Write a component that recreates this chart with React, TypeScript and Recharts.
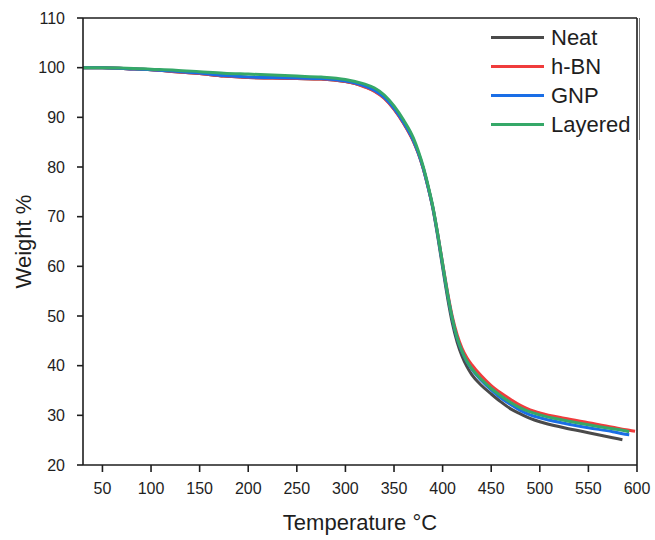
import React from 'react';
import { LineChart, Line, XAxis, YAxis, Legend, Label, ReferenceLine } from 'recharts';

const temperatures = [30, 50, 75, 100, 125, 150, 175, 200, 225, 250, 275, 300, 310, 320, 330, 340, 350, 360, 370, 375, 380, 385, 390, 395, 400, 405, 410, 415, 420, 425, 430, 440, 450, 460, 470, 480, 490, 500, 525, 550, 575, 585, 592, 598];

const neat = [100.0, 100.0, 99.8, 99.6, 99.2, 98.8, 98.3, 98.0, 97.9, 97.8, 97.7, 97.2, 96.8, 96.2, 95.3, 93.9, 91.7, 88.8, 85.2, 82.8, 79.8, 76.0, 71.6, 66.0, 59.8, 53.8, 48.6, 44.7, 41.9, 39.8, 38.2, 36.0, 34.3, 32.7, 31.3, 30.3, 29.4, 28.7, 27.5, 26.5, 25.5, 25.1, null, null];
const hBN = [100.0, 100.0, 99.8, 99.6, 99.2, 98.8, 98.3, 98.0, 97.9, 97.8, 97.7, 97.2, 96.8, 96.1, 95.2, 93.8, 91.6, 88.7, 85.1, 82.7, 79.7, 76.0, 71.8, 66.5, 60.6, 54.9, 49.9, 46.2, 43.5, 41.6, 40.2, 37.9, 36.0, 34.5, 33.2, 32.0, 31.1, 30.5, 29.4, 28.5, 27.6, 27.2, 27.0, 26.8];
const gnp = [100.0, 100.0, 99.8, 99.6, 99.3, 98.9, 98.4, 98.1, 98.0, 97.9, 97.8, 97.3, 96.9, 96.3, 95.4, 94.0, 91.8, 88.9, 85.3, 82.8, 79.8, 76.0, 71.8, 66.3, 60.3, 54.5, 49.4, 45.5, 42.8, 40.8, 39.3, 37.0, 35.1, 33.5, 32.2, 31.0, 30.1, 29.5, 28.4, 27.5, 26.7, 26.3, 26.1, null];
const layered = [100.0, 100.0, 99.9, 99.7, 99.5, 99.2, 98.9, 98.7, 98.5, 98.3, 98.1, 97.6, 97.2, 96.7, 95.9, 94.5, 92.3, 89.4, 85.8, 83.2, 80.1, 76.3, 72.0, 66.5, 60.5, 54.6, 49.5, 45.6, 42.9, 40.9, 39.4, 37.2, 35.4, 33.9, 32.6, 31.5, 30.7, 30.1, 29.0, 28.1, 27.3, 27.0, 26.7, null];

const seriesNames = ['Neat', 'h-BN', 'GNP', 'Layered'];
const seriesKeys = ['neat', 'hbn', 'gnp', 'layered'];
const seriesColors = ['#4a4a4a', '#f03c3c', '#1a6ee6', '#35a868'];

const xTicks = [50, 100, 150, 200, 250, 300, 350, 400, 450, 500, 550, 600];
const yTicks = [20, 30, 40, 50, 60, 70, 80, 90, 100, 110];

const data = temperatures.map((t, i) => ({
  t,
  neat: neat[i],
  hbn: hBN[i],
  gnp: gnp[i],
  layered: layered[i],
}));

const FONT = '"Liberation Sans", Arial, sans-serif';
const AXIS = '#1e1e1e';

const renderLegend = () => (
  <div
    style={{
      position: 'absolute',
      left: 0,
      top: 0,
      width: 161,
      height: 122,
      borderRight: '1px solid #777',
      paddingTop: 5,
      boxSizing: 'border-box',
      fontFamily: FONT,
    }}
  >
    {seriesNames.map((name, i) => (
      <div key={name} style={{ display: 'flex', alignItems: 'center', height: 29 }}>
        <div style={{ marginLeft: 12, width: 53, height: 3, background: seriesColors[i] }} />
        <span style={{ marginLeft: 7, fontSize: 22, color: '#1e1e1e', lineHeight: '29px' }}>{name}</span>
      </div>
    ))}
  </div>
);

export default function App() {
  return (
    <div style={{ position: 'absolute', left: 0, top: 0, width: 655, height: 540, background: '#fff' }}>
      <LineChart width={655} height={540} data={data} margin={{ top: 18, right: 18, left: 0, bottom: 0 }}>
        <XAxis
          dataKey="t"
          type="number"
          domain={[30, 600]}
          ticks={xTicks}
          allowDataOverflow
          height={75}
          tickSize={7}
          tickMargin={11}
          stroke={AXIS}
          strokeWidth={1.6}
          tick={{ fill: '#1e1e1e', fontSize: 16, fontFamily: FONT }}
        >
          <Label value="Temperature °C" position="insideBottom" offset={10} style={{ fontSize: 22, fontFamily: FONT, fill: '#1e1e1e' }} />
        </XAxis>
        <YAxis
          type="number"
          domain={[20, 110]}
          ticks={yTicks}
          allowDataOverflow
          width={83}
          tickSize={6}
          tickMargin={12}
          stroke={AXIS}
          strokeWidth={1.6}
          tick={{ fill: '#1e1e1e', fontSize: 16, fontFamily: FONT }}
        >
          <Label value="Weight %" angle={-90} position="insideLeft" offset={23} style={{ fontSize: 22, fontFamily: FONT, fill: '#1e1e1e', textAnchor: 'middle' }} />
        </YAxis>
        <ReferenceLine y={110} stroke={AXIS} strokeWidth={1.6} />
        <ReferenceLine x={600} stroke={AXIS} strokeWidth={1.6} />
        <Legend
          layout="vertical"
          align="center"
          verticalAlign="middle"
          content={renderLegend}
          wrapperStyle={{ left: 479, top: 18, width: 161, height: 122 }}
        />
        {seriesKeys.map((k, i) => (
          <Line
            key={k}
            dataKey={k}
            name={seriesNames[i]}
            type="monotone"
            stroke={seriesColors[i]}
            strokeWidth={3}
            dot={false}
            activeDot={false}
            isAnimationActive={false}
          />
        ))}
      </LineChart>
    </div>
  );
}
